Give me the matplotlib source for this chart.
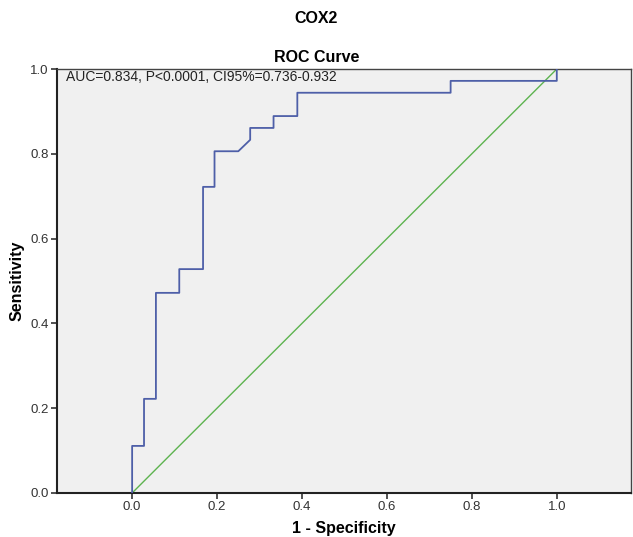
import matplotlib
matplotlib.use("Agg")
import matplotlib.pyplot as plt

plt.rcParams['font.family'] = ['Liberation Sans', 'DejaVu Sans']

# ROC curve points (1 - specificity, sensitivity)
fpr = [0.0, 0.0, 0.028, 0.028, 0.056, 0.056, 0.111, 0.111, 0.167, 0.167,
       0.194, 0.194, 0.25, 0.278, 0.278, 0.333, 0.333, 0.389, 0.389,
       0.75, 0.75, 1.0, 1.0]
tpr = [0.0, 0.111, 0.111, 0.222, 0.222, 0.472, 0.472, 0.528, 0.528, 0.722,
       0.722, 0.806, 0.806, 0.833, 0.861, 0.861, 0.889, 0.889, 0.944,
       0.944, 0.972, 0.972, 1.0]
ref_line = [0.0, 1.0]
ticks = [0.0, 0.2, 0.4, 0.6, 0.8, 1.0]
tick_labels = ["0.0", "0.2", "0.4", "0.6", "0.8", "1.0"]
stats_text = "AUC=0.834, P<0.0001, CI95%=0.736-0.932"

fig = plt.figure(figsize=(6.33, 5.37), dpi=100)
ax = fig.add_axes([0.090, 0.082, 0.907, 0.7895])
ax.set_facecolor("#f0f0f0")

ax.plot(fpr, tpr, color="#4e5fa8", lw=1.3, zorder=3)
ax.plot(ref_line, ref_line, color="#5db34f", lw=1.0, zorder=2)

ax.set_xlim(-0.177, 1.175)
ax.set_ylim(0, 1)
ax.set_xticks(ticks)
ax.set_xticklabels(tick_labels)
ax.set_yticks(ticks)
ax.set_yticklabels(tick_labels)
ax.tick_params(axis="both", direction="out", length=4, width=1.2,
               labelsize=9.5, colors="#333333", pad=2)

for side in ["left", "bottom"]:
    ax.spines[side].set_linewidth(1.5)
    ax.spines[side].set_color("#222222")
for side in ["top", "right"]:
    ax.spines[side].set_linewidth(1.0)
    ax.spines[side].set_color("#444444")

ax.text(-0.155, 0.981, stats_text, fontsize=10, color="#222222", va="center")

# titles centred on the figure, as in the reference
fig.text(0.5, 0.966, "COX2", ha="center", va="center", fontsize=11.5, fontweight="bold")
fig.text(0.5, 0.893, "ROC Curve", ha="center", va="center", fontsize=11.5, fontweight="bold")

ax.set_xlabel("1 - Specificity", fontsize=11.5, fontweight="bold")
ax.xaxis.set_label_coords(0.5, -0.066)
ax.set_ylabel("Sensitivity", fontsize=11.5, fontweight="bold")
ax.yaxis.set_label_coords(-0.056, 0.5)

fig.savefig("out.png", dpi=100)
